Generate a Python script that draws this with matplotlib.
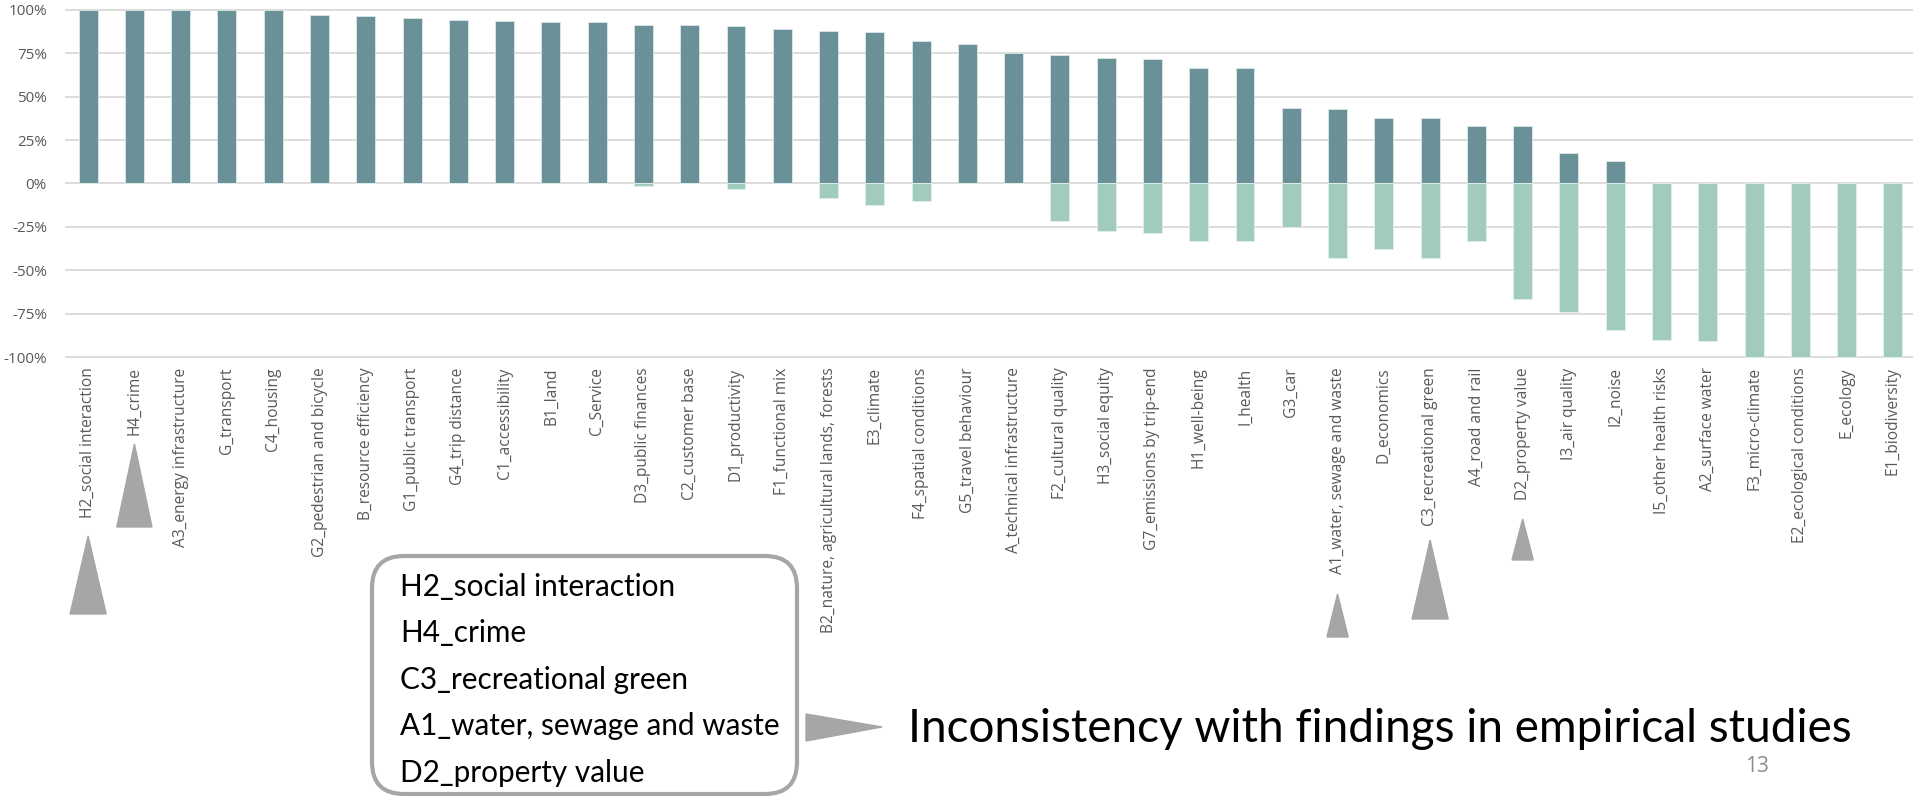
import matplotlib
matplotlib.use('Agg')
import matplotlib.pyplot as plt
import matplotlib.transforms as mtransforms
from matplotlib.patches import Polygon, FancyBboxPatch
import numpy as np

categories = [
    'H2_social interaction', 'H4_crime', 'A3_energy infrastructure', 'G_transport',
    'C4_housing', 'G2_pedestrian and bicycle', 'B_resource efficiency',
    'G1_public transport', 'G4_trip distance', 'C1_accessibility', 'B1_land',
    'C_Service', 'D3_public finances', 'C2_customer base', 'D1_productivity',
    'F1_functional mix', 'B2_nature, agricultural lands, forests', 'E3_climate',
    'F4_spatial conditions', 'G5_travel behaviour', 'A_technical infrastructure',
    'F2_cultural quality', 'H3_social equity', 'G7_emissions by trip-end',
    'H1_well-being', 'I_health', 'G3_car', 'A1_water, sewage and waste',
    'D_economics', 'C3_recreational green', 'A4_road and rail', 'D2_property value',
    'I3_air quality', 'I2_noise', 'I5_other health risks', 'A2_surface water',
    'F3_micro-climate', 'E2_ecological conditions', 'E_ecology', 'E1_biodiversity',
]
# share of positive / negative assessments
positive = [1.00, 1.00, 1.00, 1.00, 1.00, 0.971, 0.967, 0.956, 0.940, 0.934, 0.933,
            0.929, 0.915, 0.915, 0.908, 0.888, 0.881, 0.875, 0.819, 0.802, 0.750,
            0.738, 0.726, 0.715, 0.667, 0.667, 0.437, 0.429, 0.375, 0.375, 0.333,
            0.333, 0.176, 0.129, 0.0, 0.0, 0.0, 0.0, 0.0, 0.0]
negative = [0.0, 0.0, 0.0, 0.0, 0.0, 0.0, 0.0, 0.0, 0.0, 0.0, 0.0,
            0.0, -0.015, 0.0, -0.033, 0.0, -0.081, -0.125, -0.098, 0.0, 0.0,
            -0.216, -0.274, -0.285, -0.333, -0.333, -0.252, -0.429, -0.378, -0.429, -0.333,
            -0.667, -0.742, -0.844, -0.904, -0.909, -1.0, -1.0, -1.0, -1.0]
pct_ticks = [1.0, 0.75, 0.5, 0.25, 0.0, -0.25, -0.5, -0.75, -1.0]
flagged = ['H2_social interaction', 'H4_crime', 'C3_recreational green',
           'A1_water, sewage and waste', 'D2_property value']
note = 'Inconsistency with findings in empirical studies'
page_no = '13'

W, H = 1913, 797
fig = plt.figure(figsize=(W / 100, H / 100), dpi=100)
ax = fig.add_axes([65 / W, 1 - 360.5 / H, 1851 / W, 354 / H])

x = np.arange(len(categories))
ax.bar(x, positive, width=0.41, color='#6A9197', edgecolor='#dce8e8', linewidth=0.6, zorder=3)
ax.bar(x, negative, width=0.41, color='#A1CBBA', edgecolor='#e2f0ea', linewidth=0.6, zorder=3)

ax.set_xlim(-0.5, len(categories) - 0.5)
ax.set_ylim(-1.02, 1.02)
ax.set_yticks(pct_ticks)
ax.set_yticklabels([f'{v * 100:.0f}%' for v in pct_ticks])
ax.set_xticks(x)
ax.set_xticklabels(categories, rotation=90)
for s in ax.spines.values():
    s.set_visible(False)
ax.tick_params(axis='both', length=0, labelcolor='#595959')
ax.tick_params(axis='y', pad=13, labelsize=11)
ax.tick_params(axis='x', pad=5, labelsize=11.2)
for lab in ax.get_xticklabels() + ax.get_yticklabels():
    lab.set_family(['Open Sans', 'DejaVu Sans'])
ax.grid(axis='y', color='#D9D9D9', linewidth=1.3, zorder=0)
ax.set_axisbelow(True)

# gray triangles under the flagged labels (x in data, y in pixels from top)
px = mtransforms.IdentityTransform()
blend = mtransforms.blended_transform_factory(ax.transData, px)
tri_specs = {  # name: (half width in categories, apex y, base y)
    'H2_social interaction': (0.39, 536, 614),
    'H4_crime': (0.38, 444, 527),
    'A1_water, sewage and waste': (0.23, 594, 637),
    'C3_recreational green': (0.39, 540, 619),
    'D2_property value': (0.23, 519, 560),
}
for name, (hw, top, base) in tri_specs.items():
    i = categories.index(name)
    tri = Polygon([(i - hw, H - base), (i + hw, H - base), (i, H - top)],
                  closed=True, color='#A6A6A6', transform=blend, clip_on=False)
    fig.add_artist(tri)

# rounded box listing the flagged indicators
box = FancyBboxPatch((372, H - 794), 425, 238, boxstyle='round,pad=0,rounding_size=32',
                     fill=False, edgecolor='#A6A6A6', linewidth=3, transform=px)
fig.add_artist(box)
for k, name in enumerate(flagged):
    fig.text(400 / W, 1 - (587 + k * 46.5) / H, name, fontsize=21.4,
             family=['Lato', 'DejaVu Sans'], color='black', va='center', ha='left')

arrow = Polygon([(806, H - 714), (806, H - 741), (882, H - 727)], closed=True,
                color='#A6A6A6', transform=px)
fig.add_artist(arrow)
fig.text(908 / W, 1 - 729 / H, note, fontsize=33, family=['Lato', 'DejaVu Sans'],
         color='black', va='center', ha='left')
fig.text(1745 / W, 1 - 767 / H, page_no, fontsize=15, family=['Open Sans', 'DejaVu Sans'],
         color='#8C8C8C', va='center', ha='left')

fig.savefig('out.png', dpi=100)
